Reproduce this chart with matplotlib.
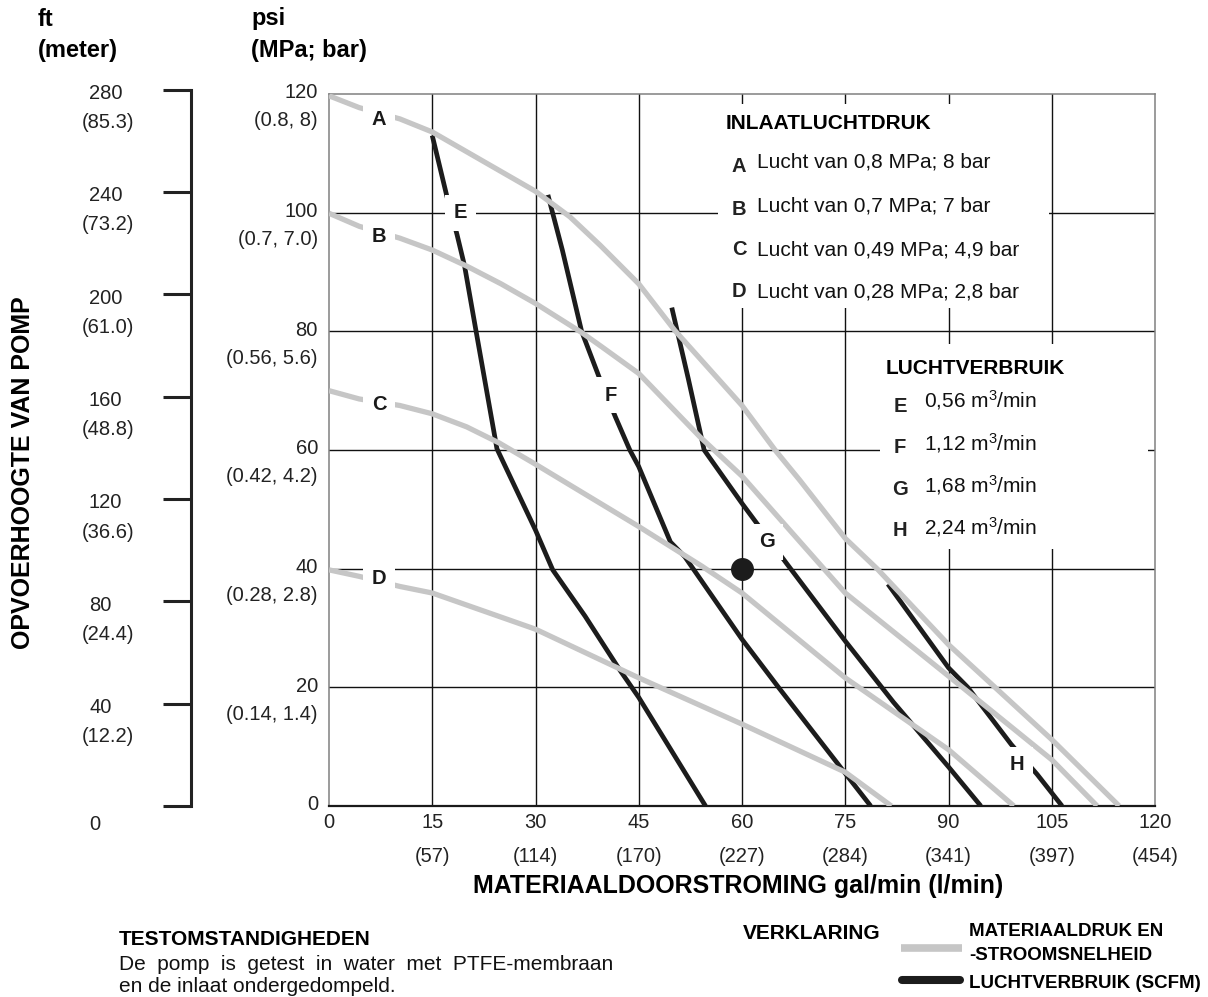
import matplotlib
matplotlib.use("Agg")
import matplotlib.pyplot as plt
from matplotlib.lines import Line2D
from matplotlib.patches import Rectangle

plt.rcParams['font.family'] = ['Liberation Sans', 'DejaVu Sans']
plt.rcParams['mathtext.fontset'] = 'custom'
plt.rcParams['mathtext.rm'] = 'Liberation Sans'
plt.rcParams['mathtext.it'] = 'Liberation Sans:italic'
plt.rcParams['mathtext.bf'] = 'Liberation Sans:bold'

W, H = 1208, 997

# --- gegevens ---
# materiaaldruk / stroomsnelheid (grijs), psi tegen gal/min
flow_a = [0, 4.4, 10.3, 15, 30, 35, 39.4, 45, 50.2, 60, 64.8, 68.4, 75, 79.7, 90, 97.6, 105, 114.8]
psi_a = [119.7, 117.7, 115.8, 113.6, 103.6, 99.3, 94.5, 88.0, 80.2, 67.5, 60.0, 54.9, 45.1, 39.9, 27.2, 19.1, 11.2, 0]

flow_b = [0, 4.4, 10.3, 15, 20, 25, 30, 36.7, 39.5, 45, 53.9, 60, 75, 90, 105, 111.6]
psi_b = [99.9, 97.7, 95.7, 93.7, 91.0, 88.0, 84.7, 79.8, 77.5, 72.9, 62.2, 55.6, 35.9, 21.9, 7.8, 0]

flow_c = [0, 4.4, 10.3, 15, 20, 24.7, 30, 45, 54.2, 60, 75, 90, 99.5]
psi_c = [70.0, 68.6, 67.5, 66.1, 63.9, 61.2, 57.6, 47.1, 40.4, 35.9, 21.6, 9.5, 0]

flow_d = [0, 4.4, 10.3, 15, 30, 45, 60, 75, 81.7]
psi_d = [39.8, 38.7, 37.0, 35.9, 29.8, 21.6, 13.8, 5.7, 0]

# luchtverbruik (zwart)
flow_e = [15, 17.2, 18.6, 19.7, 21.4, 24.4, 30, 32.5, 37.2, 42.2, 45, 54.7]
psi_e = [113.0, 102.4, 96.3, 91.0, 79.8, 60.2, 46.5, 39.8, 32.0, 23.0, 18.3, 0]

flow_f = [31.8, 33.9, 36.7, 39.4, 41.6, 43.7, 45, 49.6, 51.7, 60, 65.3, 75, 78.7]
psi_f = [103.0, 93.7, 80.0, 71.8, 65.6, 60.0, 57.2, 44.5, 42.0, 28.1, 20.0, 5.5, 0]

flow_g = [49.8, 52.2, 54.5, 60, 66.4, 75, 82, 90, 94.7]
psi_g = [84.0, 72.0, 60.0, 51.0, 41.0, 27.8, 17.5, 6.6, 0]

flow_h = [81.2, 90, 92.8, 99.1, 102.9, 106.5]
psi_h = [37.4, 23.3, 20.0, 10.4, 5.3, 0]

# bedrijfspunt
point_flow = [60]
point_psi = [40]

# assen
flow_ticks = [0, 15, 30, 45, 60, 75, 90, 105, 120]
lpm_labels = ['', '(57)', '(114)', '(170)', '(227)', '(284)', '(341)', '(397)', '(454)']
psi_ticks = [120, 100, 80, 60, 40, 20, 0]
mpa_labels = ['(0.8, 8)', '(0.7, 7.0)', '(0.56, 5.6)', '(0.42, 4.2)', '(0.28, 2.8)', '(0.14, 1.4)', '']
ft_ticks = [280, 240, 200, 160, 120, 80, 40]
meter_labels = ['(85.3)', '(73.2)', '(61.0)', '(48.8)', '(36.6)', '(24.4)', '(12.2)']

inlet_letters = ['A', 'B', 'C', 'D']
inlet_texts = ['Lucht van 0,8 MPa; 8 bar', 'Lucht van 0,7 MPa; 7 bar',
               'Lucht van 0,49 MPa; 4,9 bar', 'Lucht van 0,28 MPa; 2,8 bar']
air_letters = ['E', 'F', 'G', 'H']
air_texts = ['0,56 m$^{3}$/min', '1,12 m$^{3}$/min', '1,68 m$^{3}$/min', '2,24 m$^{3}$/min']

GRAY = '#c6c6c6'
BLACK = '#1c1c1c'


def fx(x):
    return x / W


def fy(y):
    return 1 - y / H


fig = plt.figure(figsize=(W / 100, H / 100), dpi=100)
ax = fig.add_axes([fx(329), fy(806), (1155 - 329) / W, (806 - 94) / H])
ax.set_xlim(0, 120)
ax.set_ylim(0, 120)

# rasterlijnen
for xv in flow_ticks[1:-1]:
    ax.axvline(xv, color='#111111', lw=1.0, zorder=1)
for yv in psi_ticks[1:-1]:
    ax.axhline(yv, color='#111111', lw=1.0, zorder=1)

# witte vlakken voor de legenda's in de grafiek
ax.add_patch(Rectangle((56.5, 83.9), 48.1, 34.4, fc='white', ec='none', zorder=1.5))
ax.add_patch(Rectangle((80.05, 43.3), 39.0, 34.6, fc='white', ec='none', zorder=1.5))

for fl, ps in [(flow_e, psi_e), (flow_f, psi_f), (flow_g, psi_g), (flow_h, psi_h)]:
    ax.plot(fl, ps, color=BLACK, lw=3.4, solid_joinstyle='round', solid_capstyle='butt', zorder=3)
for fl, ps in [(flow_a, psi_a), (flow_b, psi_b), (flow_c, psi_c), (flow_d, psi_d)]:
    ax.plot(fl, ps, color=GRAY, lw=3.8, solid_joinstyle='round', solid_capstyle='butt', zorder=4)

ax.plot(point_flow, point_psi, 'o', color=BLACK, ms=15.5, zorder=5)

# letters bij de curven
curve_labels = [('A', 7.26, 115.7), ('B', 7.26, 96.0), ('C', 7.26, 67.7), ('D', 7.26, 38.4),
                ('E', 19.1, 99.95), ('F', 40.97, 69.2), ('G', 63.6, 44.55), ('H', 99.96, 7.0)]
for lbl, xv, yv in curve_labels:
    ax.text(xv, yv, lbl, ha='center', va='center', fontsize=14.5, fontweight='bold',
            color='#1a1a1a', zorder=6,
            bbox=dict(boxstyle='square,pad=0.42', fc='white', ec='none'))

# randen
for side in ['left', 'top', 'right']:
    ax.spines[side].set_color('#808080')
    ax.spines[side].set_linewidth(1.1)
ax.spines['bottom'].set_color('#1a1a1a')
ax.spines['bottom'].set_linewidth(1.6)

ax.set_xticks(flow_ticks)
ax.set_xticklabels([str(t) for t in flow_ticks])
ax.tick_params(axis='x', length=0, pad=5, labelsize=14.5, labelcolor='#222222')
ax.set_yticks([])

for xv, lbl in zip(flow_ticks, lpm_labels):
    if lbl:
        ax.annotate(lbl, xy=(xv, 0), xycoords=('data', 'axes fraction'), xytext=(0, -36.5),
                    textcoords='offset points', ha='center', va='center', fontsize=14.5,
                    color='#222222')

for p, lbl in zip(psi_ticks, mpa_labels):
    ax.annotate(str(p), xy=(0, p), xycoords=('axes fraction', 'data'), xytext=(-8, 0.8),
                textcoords='offset points', ha='right', va='center', fontsize=14.5,
                color='#222222')
    if lbl:
        ax.annotate(lbl, xy=(0, p), xycoords=('axes fraction', 'data'), xytext=(-8, -19.2),
                    textcoords='offset points', ha='right', va='center', fontsize=14.5,
                    color='#222222')

# schaal in ft (meter)
axl = fig.add_axes([fx(191), fy(806), 0.0005, (806 - 89.6) / H])
axl.set_ylim(0, 280)
for side in ['top', 'right', 'bottom']:
    axl.spines[side].set_visible(False)
axl.spines['left'].set_color('#222222')
axl.spines['left'].set_linewidth(2.2)
axl.patch.set_visible(False)
axl.set_xticks([])
axl.set_yticks([0] + ft_ticks)
axl.tick_params(axis='y', direction='out', length=20.4, width=2.2, color='#222222',
                labelleft=False)

for ft, lbl in zip(ft_ticks, meter_labels):
    axl.annotate(str(ft), xy=(89, ft), xycoords=('figure pixels', 'data'), xytext=(0, -2.8),
                 textcoords='offset points', ha='left', va='center', fontsize=14.5,
                 color='#222222')
    axl.annotate(lbl, xy=(82, ft), xycoords=('figure pixels', 'data'), xytext=(0, -23.8),
                 textcoords='offset points', ha='left', va='center', fontsize=14.5,
                 color='#222222')
fig.text(fx(89), fy(825), '0', ha='left', va='center', fontsize=14.5, color='#222222')

# koppen
fig.text(fx(38), fy(19), 'ft', ha='left', va='center', fontsize=17, fontweight='bold')
fig.text(fx(38), fy(50), '(meter)', ha='left', va='center', fontsize=17, fontweight='bold')
fig.text(fx(251), fy(19), 'psi', ha='left', va='center', fontsize=17, fontweight='bold')
fig.text(fx(251), fy(50), '(MPa; bar)', ha='left', va='center', fontsize=17, fontweight='bold')

fig.text(fx(738), fy(886), 'MATERIAALDOORSTROMING gal/min (l/min)', ha='center', va='center',
         fontsize=18, fontweight='bold')
fig.text(fx(23), fy(473), 'OPVOERHOOGTE VAN POMP', rotation=90, ha='center', va='center',
         fontsize=18, fontweight='bold')

# legenda inlaatluchtdruk
fig.text(fx(726), fy(129), 'INLAATLUCHTDRUK', ha='left', va='baseline', fontsize=15,
         fontweight='bold')
letter_base = [171.8, 214.8, 255, 297]
text_base = [167.7, 211.3, 255, 297]
for lt, tx, lb, tb in zip(inlet_letters, inlet_texts, letter_base, text_base):
    fig.text(fx(739), fy(lb), lt, ha='center', va='baseline', fontsize=14.5, fontweight='bold',
             color='#222222')
    fig.text(fx(757), fy(tb), tx, ha='left', va='baseline', fontsize=15, color='#111111')

# legenda luchtverbruik
fig.text(fx(886), fy(374), 'LUCHTVERBRUIK', ha='left', va='baseline', fontsize=15,
         fontweight='bold')
letter_base2 = [412, 453, 495, 536]
text_base2 = [407.3, 450, 492.7, 534]
for lt, tx, lb, tb in zip(air_letters, air_texts, letter_base2, text_base2):
    fig.text(fx(900), fy(lb), lt, ha='center', va='baseline', fontsize=14.5, fontweight='bold',
             color='#222222')
    fig.text(fx(924), fy(tb), tx, ha='left', va='baseline', fontsize=15, color='#111111')

# onderaan: testomstandigheden
fig.text(fx(119), fy(939), 'TESTOMSTANDIGHEDEN', ha='left', va='center', fontsize=15,
         fontweight='bold')
fig.text(fx(119), fy(964), 'De  pomp  is  getest  in  water  met  PTFE-membraan', ha='left',
         va='center', fontsize=15, color='#111111')
fig.text(fx(119), fy(986), 'en de inlaat ondergedompeld.', ha='left', va='center', fontsize=15,
         color='#111111')

# verklaring
fig.text(fx(743), fy(933), 'VERKLARING', ha='left', va='center', fontsize=15, fontweight='bold')
fig.add_artist(Line2D([fx(901), fx(962)], [fy(948), fy(948)], color=GRAY, lw=5.5,
                      solid_capstyle='butt'))
fig.add_artist(Line2D([fx(902), fx(960)], [fy(979.5), fy(979.5)], color=BLACK, lw=5.8,
                      solid_capstyle='round'))
fig.text(fx(969), fy(931.5), 'MATERIAALDRUK EN', ha='left', va='center', fontsize=13.5,
         fontweight='bold')
fig.text(fx(969), fy(955), '-STROOMSNELHEID', ha='left', va='center', fontsize=13.5,
         fontweight='bold')
fig.text(fx(969), fy(983), 'LUCHTVERBRUIK (SCFM)', ha='left', va='center', fontsize=13.5,
         fontweight='bold')

fig.savefig('out.png', dpi=100)
